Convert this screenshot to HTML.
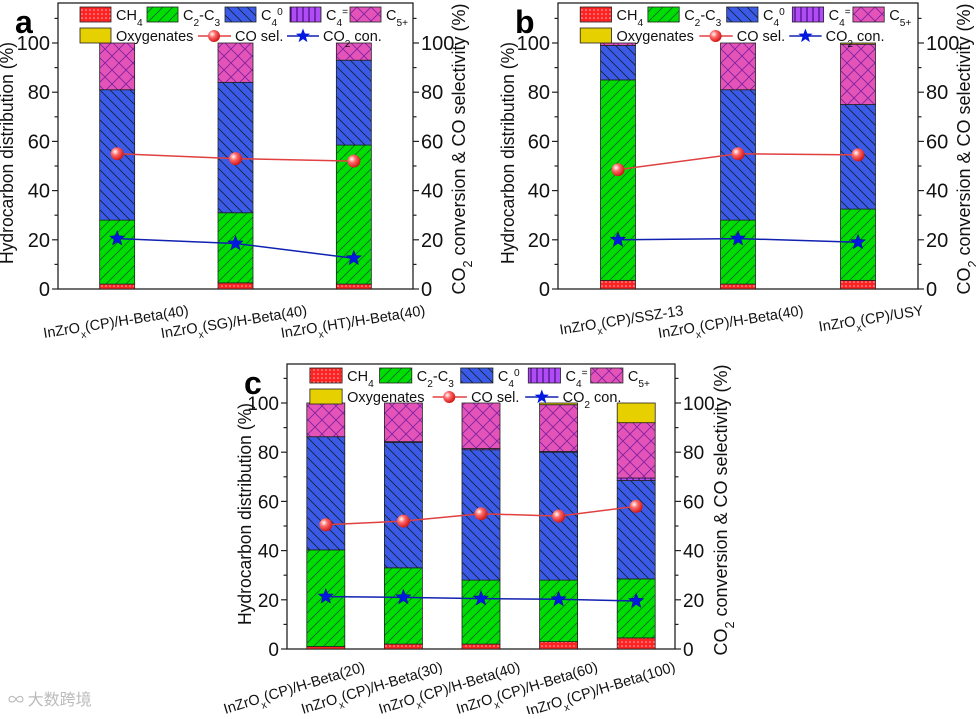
<!DOCTYPE html>
<html><head><meta charset="utf-8"><style>
body{margin:0;background:#fff;width:976px;height:714px;overflow:hidden}
svg{font-family:"Liberation Sans",Arial,sans-serif}
</style></head><body>
<svg id="fig" width="976" height="714" viewBox="0 0 976 714" xmlns="http://www.w3.org/2000/svg">
<defs>
<pattern id="pCH4" width="4" height="4" patternUnits="userSpaceOnUse"><rect width="4" height="4" fill="#f22"/><circle cx="2" cy="2" r="0.8" fill="#fbb"/></pattern>
<pattern id="pC23" width="10" height="10" patternUnits="userSpaceOnUse"><rect width="10" height="10" fill="#0d0"/><path d="M0 10L10 0M-2 2L2 -2M8 12L12 8" stroke="#063" stroke-width="0.8"/></pattern>
<pattern id="pC40" width="10" height="10" patternUnits="userSpaceOnUse"><rect width="10" height="10" fill="#3b5ae8"/><path d="M0 0L10 10M-2 8L2 12M8 -2L12 2" stroke="#123" stroke-width="0.8"/></pattern>
<pattern id="pC4e" width="6" height="6" patternUnits="userSpaceOnUse"><rect width="6" height="6" fill="#b04cf5"/><path d="M3 0V6" stroke="#306" stroke-width="1"/></pattern>
<pattern id="pC5" width="14" height="14" patternUnits="userSpaceOnUse"><rect width="14" height="14" fill="#e454b8"/><path d="M0 0L14 14M14 0L0 14" stroke="#8020a0" stroke-width="0.9"/></pattern>
<pattern id="pOxy" width="4" height="4" patternUnits="userSpaceOnUse"><rect width="4" height="4" fill="#e6d000"/></pattern>
<radialGradient id="ball" cx="0.35" cy="0.35" r="0.7"><stop offset="0" stop-color="#fff"/><stop offset="0.4" stop-color="#f66"/><stop offset="1" stop-color="#c11"/></radialGradient>
</defs>
</svg>
<script>
// ---- Panel data ----
const catsA = ["InZrOx(CP)/H-Beta(40)","InZrOx(SG)/H-Beta(40)","InZrOx(HT)/H-Beta(40)"];
const ch4A = [2, 2.5, 2];
const c23A = [26, 28.5, 56.5];
const c40A = [53, 53, 34.5];
const c4eA = [0, 0, 0];
const c5A = [19, 16, 7];
const oxyA = [0, 0, 0];
const coSelA = [55, 53, 52];
const co2ConA = [20.5, 18.5, 12.5];

const catsB = ["InZrOx(CP)/SSZ-13","InZrOx(CP)/H-Beta(40)","InZrOx(CP)/USY"];
const ch4B = [3.5, 2, 3.5];
const c23B = [81.5, 26, 29];
const c40B = [14, 53, 42.5];
const c4eB = [0, 0, 0];
const c5B = [1, 19, 24.5];
const oxyB = [0, 0, 0.5];
const coSelB = [48.5, 55, 54.5];
const co2ConB = [20, 20.5, 19];

const catsC = ["InZrOx(CP)/H-Beta(20)","InZrOx(CP)/H-Beta(30)","InZrOx(CP)/H-Beta(40)","InZrOx(CP)/H-Beta(60)","InZrOx(CP)/H-Beta(100)"];
const ch4C = [1, 2, 2, 3, 4.5];
const c23C = [39.3, 31, 26, 25, 24];
const c40C = [46, 51, 53, 52, 40];
const c4eC = [0, 0.3, 0.5, 0.3, 1];
const c5C = [13.7, 15.7, 18.5, 19, 22.5];
const oxyC = [0, 0, 0, 0.7, 8];
const coSelC = [50.5, 52, 55, 54, 58];
const co2ConC = [21.3, 21, 20.5, 20.2, 19.5];

const yTicks = [0, 20, 40, 60, 80, 100];
const NS = "http://www.w3.org/2000/svg";
const svg = document.getElementById('fig');
function mk(tag, attrs, parent){const e=document.createElementNS(NS,tag);for(const k in attrs)e.setAttribute(k,attrs[k]);(parent||svg).appendChild(e);return e;}
const SUB = s => '<tspan baseline-shift="sub" font-size="70%">'+s+'</tspan>';
const SUP = s => '<tspan baseline-shift="super" font-size="70%">'+s+'</tspan>';

function panel(p){
  const g = mk('g',{});
  
  
  const y = v => p.y0 - (p.y0 - p.y100) * v / 100;
  const n = p.cats.length;
  const step = (p.x1 - p.x0) / n;
  const x = i => p.x0 + step * (i + 0.5);
  const box = mk('rect',{x:p.x0,y:p.top,width:p.x1-p.x0,height:p.y0-p.top,fill:'none',stroke:'#222','stroke-width':1.3},g);
  
  
  for(let v=0; v<=110; v+=10){
    const len = v%20===0 ? 6 : 3.5;
    mk('line',{x1:p.x0,x2:p.x0-len,y1:y(v),y2:y(v),stroke:'#222','stroke-width':1.2},g);
    mk('line',{x1:p.x1,x2:p.x1+len,y1:y(v),y2:y(v),stroke:'#222','stroke-width':1.2},g);
  }
  yTicks.forEach(v=>{
    const t=mk('text',{x:p.x0-8,y:y(v)+7,'text-anchor':'end','font-size':p.tfs,fill:'#111'},g);t.textContent=v;
    
    
    const t2=mk('text',{x:p.x1+8,y:y(v)+7,'font-size':p.tfs,fill:'#111'},g);t2.textContent=v;
    
    
  });
  const series=[[p.ch4,'pCH4','ch4'],[p.c23,'pC23','c2-c3'],[p.c40,'pC40','c4-0'],[p.c4e,'pC4e','c4-ene'],[p.c5,'pC5','c5plus'],[p.oxy,'pOxy','oxygenates']];
  for(let i=0;i<n;i++){
    let acc=0;
    series.forEach(s=>{
      const v=s[0][i]; if(v<=0){return;}
      const r=mk('rect',{x:x(i)-p.bw/2,y:y(acc+v),width:p.bw,height:y(acc)-y(acc+v),fill:'url(#'+s[1]+')',stroke:'#222','stroke-width':0.8},g);
      
      
      acc+=v;
    });
    const t=mk('text',{'text-anchor':'end','font-size':p.cfs,fill:'#111',transform:`translate(${x(i)+p.lx},${p.y0+p.ly}) rotate(${p.rot})`},g);
    const m=p.cats[i].split('Ox');
    t.innerHTML=m[0]+'O'+SUB('x')+'<tspan>'+m[1]+'</tspan>';
    
    
  }
  const lineOf=(arr,col,name)=>{
    const pl=mk('polyline',{points:arr.map((v,i)=>x(i)+','+y(v)).join(' '),fill:'none',stroke:col,'stroke-width':1.5},g);
    
    
  };
  lineOf(p.coSel,'#e04040','co-sel-line');
  lineOf(p.co2,'#1020b0','co2-con-line');
  p.coSel.forEach((v,i)=>{
    const c=mk('circle',{cx:x(i),cy:y(v),r:6.5,fill:'url(#ball)'},g);
    
    
  });
  const star=(cx,cy,r)=>{let d='';for(let k=0;k<10;k++){const a=-Math.PI/2+k*Math.PI/5;const rr=k%2?r*0.42:r;d+=(k?'L':'M')+(cx+rr*Math.cos(a)).toFixed(1)+' '+(cy+rr*Math.sin(a)).toFixed(1);}return d+'Z';};
  p.co2.forEach((v,i)=>{
    const s=mk('path',{d:star(x(i),y(v),8),fill:'#0018e0',stroke:'#001080','stroke-width':0.5},g);
    
    
  });
  const yt=mk('text',{'text-anchor':'middle','font-size':18,textLength:222,lengthAdjust:'spacingAndGlyphs',fill:'#111',transform:`translate(${p.x0-p.ltx},${p.top+150}) rotate(-90)`},g);
  yt.textContent='Hydrocarbon distribution (%)';
  
  
  const rt=mk('text',{'text-anchor':'middle','font-size':18,fill:'#111',transform:`translate(${p.x1+p.rtx},${p.top+146}) rotate(-90)`},g);
  rt.innerHTML='CO'+SUB('2')+'<tspan> conversion &amp; CO selectivity (%)</tspan>';
  
  
  const L=mk('text',{x:p.x0-43,y:p.top+30,'font-size':32,'font-weight':'bold',fill:'#000'},g);L.textContent=p.id;
  
  
  // legend
  const k=p.ls, lx=p.x0, ly1=p.top+4, ly2=p.top+25, sw=31*k, sh=15, fs=14.5;
  const items=[['pCH4','CH'+SUB('4'),22],['pC23','C'+SUB('2')+'<tspan>-C</tspan>'+SUB('3'),89],['pC40','C'+SUB('4')+SUP('0'),167],['pC4e','C'+SUB('4')+SUP('='),232],['pC5','C'+SUB('5+'),292]];
  items.forEach(it=>{
    const xx=lx+it[2]*k;
    const r=mk('rect',{x:xx,y:ly1,width:sw,height:sh,fill:'url(#'+it[0]+')',stroke:'#222','stroke-width':0.8},g);
    
    
    const t=mk('text',{x:xx+sw+5,y:ly1+13,'font-size':fs,fill:'#111'},g);
    t.innerHTML=it[1];
    
    
  });
  const r2=mk('rect',{x:lx+22*k,y:ly2,width:sw,height:sh,fill:'url(#pOxy)',stroke:'#222','stroke-width':0.8},g);
  
  
  const to=mk('text',{x:lx+22*k+sw+5,y:ly2+13,'font-size':fs,fill:'#111'},g);to.textContent='Oxygenates';
  
  
  const cx1=lx+140*k;
  mk('line',{x1:cx1,x2:cx1+33*k,y1:ly2+8,y2:ly2+8,stroke:'#e04040','stroke-width':1.5},g);
  mk('circle',{cx:cx1+16*k,cy:ly2+8,r:6,fill:'url(#ball)'},g);
  const tc=mk('text',{x:lx+177*k,y:ly2+13,'font-size':fs,fill:'#111'},g);tc.textContent='CO sel.';
  
  
  const cx2=lx+229*k;
  mk('line',{x1:cx2,x2:cx2+32*k,y1:ly2+8,y2:ly2+8,stroke:'#1020b0','stroke-width':1.5},g);
  mk('path',{d:star(cx2+16*k,ly2+8,7.5),fill:'#0018e0'},g);
  const t3=mk('text',{x:lx+265*k,y:ly2+13,'font-size':fs,fill:'#111'},g);
  t3.innerHTML='CO'+SUB('2')+'<tspan> con.</tspan>';
  
  
}

panel({id:'a',x0:58,x1:413,top:3,y0:289,y100:43,bw:35,cats:catsA,ch4:ch4A,c23:c23A,c40:c40A,c4e:c4eA,c5:c5A,oxy:oxyA,coSel:coSelA,co2:co2ConA,lx:72,ly:26,rot:-9,cfs:14.5,ls:1,ltx:45,rtx:52,tfs:20});
panel({id:'b',x0:558,x1:918,top:3,y0:289,y100:43,bw:35,cats:catsB,ch4:ch4B,c23:c23B,c40:c40B,c4e:c4eB,c5:c5B,oxy:oxyB,coSel:coSelB,co2:co2ConB,lx:66,ly:26,rot:-9,cfs:14.5,ls:1.01,ltx:44,rtx:52,tfs:20});
panel({id:'c',x0:287,x1:675,top:364,y0:649,y100:403,bw:38,cats:catsC,ch4:ch4C,c23:c23C,c40:c40C,c4e:c4eC,c5:c5C,oxy:oxyC,coSel:coSelC,co2:co2ConC,lx:40,ly:22,rot:-17,cfs:14.5,ls:1.04,ltx:36,rtx:52,tfs:19});

const wm=mk('text',{x:8,y:705,'font-size':16,fill:'#bbb','font-family':'"Noto Sans CJK SC",sans-serif'});
wm.textContent='∞ 大数跨境';


</script>
</body></html>
